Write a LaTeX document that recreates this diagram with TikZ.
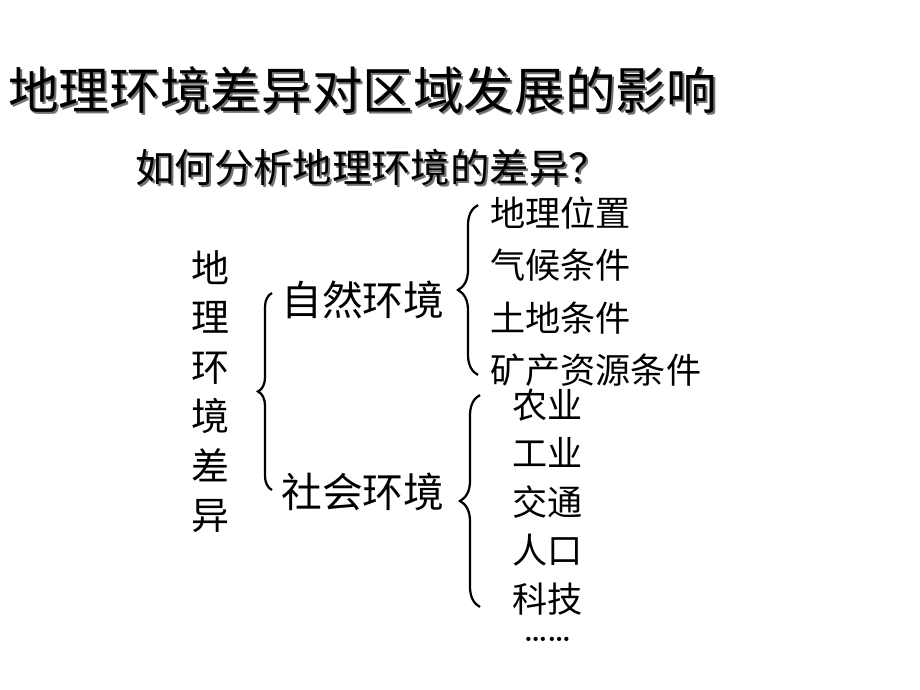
\documentclass[tikz,border=0pt]{standalone}
\usepackage{fontspec}
\newfontfamily\cjk{Noto Sans CJK SC}
\usetikzlibrary{positioning,decorations.pathreplacing}

\begin{document}
\begin{tikzpicture}[x=0.025cm, y=-0.025cm, node distance=0.42cm]
	\tikzstyle{title} = [inner sep=0pt, anchor=west, text height=31.7pt, text depth=4.3pt, font=\cjk\fontsize{36}{40}\selectfont]
	\tikzstyle{question} = [inner sep=0pt, anchor=west, text height=24.6pt, text depth=3.4pt, font=\cjk\fontsize{28}{32}\selectfont]
	\tikzstyle{vert} = [inner sep=0pt, text height=23.8pt, text depth=3.2pt, font=\cjk\fontsize{27}{30}\selectfont]
	\tikzstyle{group} = [inner sep=0pt, anchor=west, text height=25.5pt, text depth=3.5pt, font=\cjk\fontsize{29}{32}\selectfont]
	\tikzstyle{item} = [inner sep=0pt, text height=22pt, text depth=3pt, align=left, font=\cjk\fontsize{25}{28}\selectfont]
	\tikzstyle{shadow} = [text=black!55]
	\tikzstyle{brace} = [decorate, line width=1.6pt, decoration={brace, amplitude=#1}]

	\useasboundingbox (0,0) rectangle (920,690);

	\node[title, shadow](title-sh) at (10,92){地理环境差异对区域发展的影响};
	\node[title](title) at (8,90){地理环境差异对区域发展的影响};
	\node[question, shadow](question-sh) at (137,170){如何分析地理环境的差异？};
	\node[question](question) at (135,168){如何分析地理环境的差异？};

	\foreach \c [count=\i] in {地,理,环,境,差,异}
		\node[vert](v\i) at (210,{268+49.4*(\i-1)}){\c};

	\node[group](nature) at (281,300){自然环境};
	\node[group](society) at (281,492){社会环境};

	\node[item, text width=150pt, anchor=west](location) at (490,213){地理位置};
	\node[item, text width=150pt, below =of location](climate){气候条件};
	\node[item, text width=150pt, below =of climate](land){土地条件};
	\node[item, text width=150pt, below =of land](mineral){矿产资源条件};

	\node[item, text width=50pt, anchor=west](farm) at (512,405){农业};
	\node[item, text width=50pt, below =0.32cm of farm](industry){工业};
	\node[item, text width=50pt, below =0.32cm of industry](traffic){交通};
	\node[item, text width=50pt, below =0.32cm of traffic](people){人口};
	\node[item, text width=50pt, below =0.32cm of people](tech){科技};
	\node[inner sep=0pt, font=\bfseries\fontsize{21}{24}\selectfont, below =0.5cm of tech](more){……};

	\coordinate (big-bot) at (272,490);
	\coordinate (big-top) at (272,293);
	\coordinate (nat-bot) at (478,375);
	\coordinate (nat-top) at (478,205);
	\coordinate (soc-bot) at (480,607);
	\coordinate (soc-top) at (480,395);

	\draw[brace=0.35cm] (big-bot) -- (big-top);
	\draw[brace=0.5cm] (nat-bot) -- (nat-top);
	\draw[brace=0.5cm] (soc-bot) -- (soc-top);
\end{tikzpicture}
\end{document}
